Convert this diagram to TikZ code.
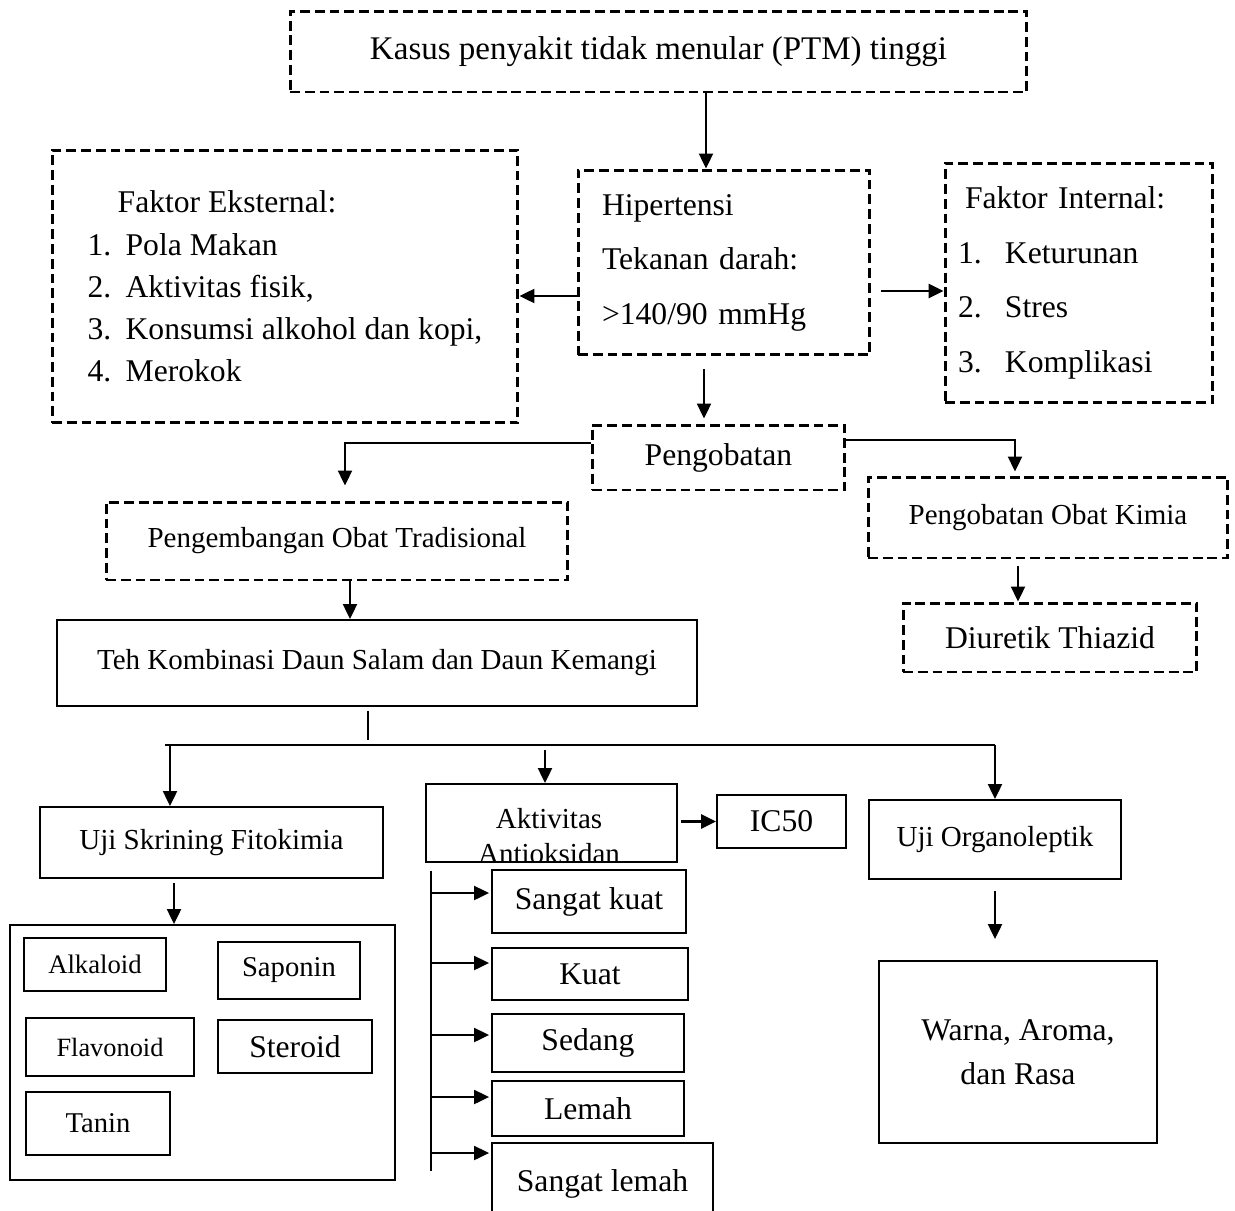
\documentclass[tikz,border=0pt]{standalone}
\usepackage{fontspec}
\setmainfont{Liberation Serif}
\usetikzlibrary{arrows.meta}

\begin{document}
\begin{tikzpicture}
[x=0.02cm,y=-0.02cm,%
  dashDecorate/.style={draw,line width=1.7pt,dash pattern=on 5.6pt off 2.8pt,inner sep=0pt},%
  boxDecorate/.style={draw,line width=1.1pt,inner sep=0pt},%
  lineDecorate/.style={-,line width=0.9pt},%
  arrowDecorate/.style={-{Triangle[length=8.5pt,width=8pt]},line width=1pt},%
  bigText/.style={font=\fontsize{18}{22}\selectfont},%
  midText/.style={font=\fontsize{16.5}{20}\selectfont}]
\useasboundingbox (0,0) rectangle (1235,1211);
%% upper boxes
\node[dashDecorate,minimum width=14.74cm,minimum height=1.62cm,font=\fontsize{18.8}{22}\selectfont]
  (kasus) at (658.5,51.5) {Kasus penyakit tidak menular (PTM) tinggi};
\node[dashDecorate,minimum width=5.84cm,minimum height=3.7cm,text width=4.88cm,align=left,font=\fontsize{18}{31}\selectfont]
  (hiper) at (724,262.5) {Hipertensi\\Tekanan darah:\\>140/90 mmHg};
\node[dashDecorate,minimum width=9.32cm,minimum height=5.46cm,align=left,font=\fontsize{18}{24}\selectfont]
  (ekst) at (285,286.5) {\hspace*{0.6cm}Faktor Eksternal:\\
  \makebox[0.76cm][l]{1.}Pola Makan\\
  \makebox[0.76cm][l]{2.}Aktivitas fisik,\\
  \makebox[0.76cm][l]{3.}Konsumsi alkohol dan kopi,\\
  \makebox[0.76cm][l]{4.}Merokok};
\node[dashDecorate,minimum width=5.36cm,minimum height=4.8cm,text width=4.84cm,align=left,font=\fontsize{18}{31}\selectfont]
  (intern) at (1079,283) {\hspace*{0.14cm}Faktor Internal:\\
  \makebox[0.94cm][l]{1.}Keturunan\\
  \makebox[0.94cm][l]{2.}Stres\\
  \makebox[0.94cm][l]{3.}Komplikasi};
\node[dashDecorate,minimum width=5.06cm,minimum height=1.3cm,bigText] (peng) at (718.5,457.5) {Pengobatan};
\node[dashDecorate,minimum width=9.24cm,minimum height=1.56cm,midText] (trad) at (337,541) {Pengembangan Obat Tradisional};
\node[dashDecorate,minimum width=7.2cm,minimum height=1.62cm,midText] (kimia) at (1048,517.5) {Pengobatan Obat Kimia};
\node[dashDecorate,minimum width=5.88cm,minimum height=1.38cm,bigText] (diur) at (1050,637.5) {Diuretik Thiazid};
\node[boxDecorate,minimum width=12.8cm,minimum height=1.72cm,midText] (teh) at (377,663) {Teh Kombinasi Daun Salam dan Daun Kemangi};
%% test boxes
\node[boxDecorate,minimum width=6.86cm,minimum height=1.42cm,midText] (skrin) at (211.5,842.5) {Uji Skrining Fitokimia};
\node[boxDecorate,minimum width=5.02cm,minimum height=1.56cm] (antiok) at (551.5,823) {};
\begin{scope}
  \clip (antiok.south west) rectangle (antiok.north east);
  \node[align=center,font=\fontsize{16.5}{20.4}\selectfont] (antiokText) at (549,836) {Aktivitas\\Antioksidan};
\end{scope}
\node[boxDecorate,minimum width=2.58cm,minimum height=1.06cm,bigText] (ic50) at (781.5,821.5) {IC50};
\node[boxDecorate,minimum width=5.04cm,minimum height=1.58cm,midText] (organo) at (995,839.5) {Uji Organoleptik};
\node[boxDecorate,minimum width=5.56cm,minimum height=3.64cm,align=center,font=\fontsize{18}{25}\selectfont]
  (warna) at (1018,1052) {Warna, Aroma,\\dan Rasa};
%% compounds
\node[boxDecorate,minimum width=7.7cm,minimum height=5.1cm] (senyawa) at (202.5,1052.5) {};
\foreach \name/\x/\y/\w/\h/\fs/\txt in {
  alk/95/964.5/2.84/1.06/15.2/Alkaloid, sap/289/970.5/2.84/1.14/16.3/Saponin,
  flav/110/1047/3.36/1.16/15/Flavonoid, ster/295/1046.5/3.08/1.06/18/Steroid,
  tan/98/1123.5/2.88/1.26/16.3/Tanin}
{
  \node[boxDecorate,minimum width=\w cm,minimum height=\h cm,font=\fontsize{\fs}{\fs}\selectfont] (\name) at (\x,\y) {\txt};
}
%% antioxidant levels
\foreach \name/\x/\y/\w/\h/\txt in {
  skuat/589/901.5/3.88/1.26/Sangat kuat, kuat/590/974/3.92/1.04/Kuat,
  sedang/588/1043/3.84/1.16/Sedang, lemah/588/1108.5/3.84/1.1/Lemah,
  slemah/602.5/1184/4.42/1.64/Sangat lemah}
{
  \node[boxDecorate,minimum width=\w cm,minimum height=\h cm,bigText] (\name) at (\x,\y) {\txt};
}
%% connectors
\coordinate (kasusOut) at ([xshift=0.95cm]kasus.south);
\draw[arrowDecorate] (kasusOut) -- (kasusOut |- hiper.north);
\coordinate (hiperL) at ([yshift=-0.67cm]hiper.west);
\draw[arrowDecorate] (hiperL) -- (hiperL -| ekst.east);
\coordinate (hiperR) at ([yshift=-0.57cm]hiper.east);
\draw[arrowDecorate,line width=1.4pt,shorten <=0.2cm] (hiperR) -- (hiperR -| intern.west);
\coordinate (hiperD) at ([xshift=-0.4cm]hiper.south);
\draw[arrowDecorate,shorten <=0.26cm,shorten >=0.1cm] (hiperD) -- (hiperD |- peng.north);
\coordinate (tradIn) at ([xshift=0.16cm]trad.north);
\draw[arrowDecorate,shorten >=0.3cm] ([yshift=0.29cm]peng.west) -| (tradIn);
\coordinate (kimiaIn) at ([xshift=-0.66cm]kimia.north);
\draw[arrowDecorate,shorten >=0.08cm] ([yshift=0.35cm]peng.east) -| (kimiaIn);
\coordinate (kimiaD) at ([xshift=-0.6cm]kimia.south);
\draw[arrowDecorate,shorten <=0.14cm] (kimiaD) -- (kimiaD |- diur.north);
\coordinate (tradD) at ([xshift=0.26cm]trad.south);
\draw[arrowDecorate] (tradD) -- (tradD |- teh.north);
%% bus to the tests
\coordinate (tehD) at ([xshift=-0.18cm]teh.south);
\coordinate (busL) at (165,745);
\coordinate (busR) at (995,745);
\draw[lineDecorate,line width=1.2pt,shorten <=0.08cm,shorten >=0.1cm] (tehD) -- (tehD |- busL);
\draw[lineDecorate,line width=1.2pt] (busL) -- (busR);
\coordinate (skrinIn) at ([xshift=-0.83cm]skrin.north);
\draw[arrowDecorate] (busL -| skrinIn) -- (skrinIn);
\coordinate (antiokIn) at ([xshift=-0.13cm]antiok.north);
\draw[arrowDecorate,shorten <=0.1cm] (busL -| antiokIn) -- (antiokIn);
\draw[arrowDecorate] (busR) -- (organo.north);
\draw[arrowDecorate,line width=1.4pt,shorten <=0.06cm] (antiok.east |- ic50.west) -- (ic50.west);
\coordinate (skrinD) at ([xshift=-0.75cm]skrin.south);
\draw[arrowDecorate,shorten <=0.08cm] (skrinD) -- (skrinD |- senyawa.north);
%% rail to the levels
\coordinate (railTop) at ([xshift=0.12cm,yshift=-0.16cm]antiok.south west);
\coordinate (railBot) at ([yshift=-6cm]railTop);
\draw[lineDecorate] (railTop) -- (railBot);
\foreach \name/\dy in {skuat/0.17,kuat/0.22,sedang/0.16,lemah/0.23,slemah/0.62}
{
  \coordinate (in\name) at ([yshift=\dy cm]\name.west);
  \draw[arrowDecorate,shorten >=0.04cm] (railTop |- in\name) -- (in\name);
}
%% organoleptic result
\draw[arrowDecorate,shorten <=0.22cm,shorten >=0.42cm] (organo.south) -- (organo.south |- warna.north);
\end{tikzpicture}
\end{document}
